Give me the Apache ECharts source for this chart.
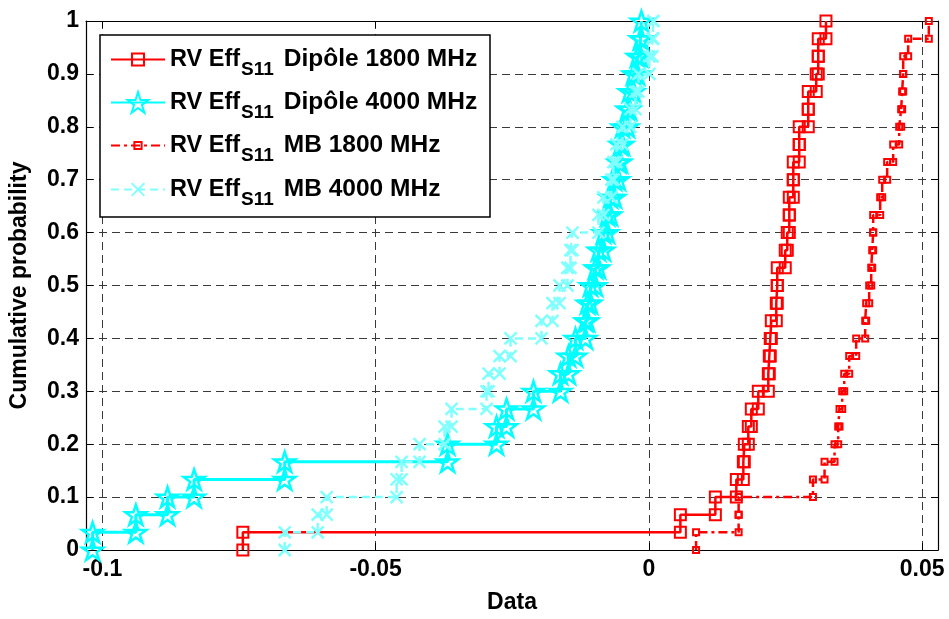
<!DOCTYPE html>
<html>
<head>
<meta charset="utf-8">
<script src="https://cdn.jsdelivr.net/npm/echarts@6/dist/echarts.min.js"></script>
<style>
  html, body { margin: 0; padding: 0; background: #ffffff; }
  #chart { width: 949px; height: 619px; }
</style>
</head>
<body>
<div id="chart"></div>
<script>
// Sorted samples of the radiation-efficiency deviation (one empirical CDF per case)
const seriesNames = ['Dipôle 1800 MHz', 'Dipôle 4000 MHz', 'MB 1800 MHz', 'MB 4000 MHz'];

const dipole1800 = [
  -0.0743, 0.00576, 0.01216, 0.0160, 0.01728, 0.01746, 0.01819, 0.01874, 0.02002, 0.02185,
  0.02203, 0.02221, 0.0224, 0.02331, 0.02349, 0.02349, 0.02495, 0.02532, 0.02569, 0.02569,
  0.02642, 0.02642, 0.02751, 0.02751, 0.02916, 0.02916, 0.03062, 0.03099, 0.03099, 0.0324
];

const dipole4000 = [
  -0.10179, -0.09388, -0.08808, -0.08322, -0.06664, -0.03684, -0.02788, -0.02605, -0.02112, -0.01618,
  -0.01472, -0.01344, -0.01161, -0.01124, -0.01069, -0.00978, -0.00923, -0.00832, -0.00759, -0.00704,
  -0.00631, -0.00558, -0.00521, -0.00484, -0.00393, -0.00356, -0.00283, -0.0021, -0.00155, -0.00137
];

const mb1800 = [
  0.00863, 0.01642, 0.01642, 0.03002, 0.03214, 0.03397, 0.03464, 0.03488, 0.03537, 0.03574,
  0.03665, 0.03793, 0.03958, 0.03976, 0.04031, 0.04068, 0.04086, 0.04104, 0.04104, 0.04232,
  0.04269, 0.0436, 0.0447, 0.0458, 0.04616, 0.04634, 0.04653, 0.04653, 0.04744, 0.05122
];

const mb4000 = [
  -0.06664, -0.0606, -0.05896, -0.04616, -0.04525, -0.04196, -0.03739, -0.03611, -0.02971, -0.02934,
  -0.02733, -0.02532, -0.01965, -0.01764, -0.01636, -0.0149, -0.01435, -0.01399, -0.00923, -0.00832,
  -0.00686, -0.00649, -0.00594, -0.00484, -0.00338, -0.00247, -0.00192, 0.00009, 0.00064, 0.00082
];

const xTickValues = [-0.1, -0.05, 0, 0.05];
const xRange = [-0.103, 0.0529];
const yRange = [0, 1];

// Staircase of an empirical CDF: each sample gives a vertical jump of 1/n
function cdfStairs(samples) {
  const s = samples.slice().sort((a, b) => a - b);
  const n = s.length;
  const pts = [];
  s.forEach((v, i) => {
    pts.push([v, i / n]);
    pts.push([v, (i + 1) / n]);
  });
  return pts;
}

const FONT = "'Liberation Sans', Arial, Helvetica, sans-serif";
const STAR = 'path://M50,0 L61.2,34.5 L97.6,34.5 L68.2,55.9 L79.4,90.5 L50,69.1 L20.6,90.5 L31.8,55.9 L2.4,34.5 L38.8,34.5 Z';
const CROSS = 'path://M0,0 L10,10 M10,0 L0,10';
const CLEAR = 'rgba(0,0,0,0)';

const styles = [
  { data: dipole1800, color: '#ff0000', type: 'solid', width: 2.5, symbol: 'rect', size: 11, border: 2, legendH: 15 },
  { data: dipole4000, color: '#00ffff', type: 'solid', width: 3, symbol: STAR, size: 21, border: 2.5, legendH: 26 },
  { data: mb1800, color: '#ff0000', type: [9, 4, 3, 4], width: 2.5, symbol: 'rect', size: 6, border: 2, legendH: 9 },
  { data: mb4000, color: '#80ffff', type: [8, 5], width: 2.5, symbol: CROSS, size: 12, border: 2.5, legendH: 16 }
];

const series = styles.map((st, i) => ({
  name: seriesNames[i],
  type: 'line',
  data: cdfStairs(st.data),
  symbol: st.symbol,
  symbolSize: st.size,
  showSymbol: true,
  symbolKeepAspect: true,
  lineStyle: { color: st.color, width: st.width, type: st.type },
  itemStyle: { color: CLEAR, borderColor: st.color, borderWidth: st.border },
  emphasis: { disabled: true },
  z: 2 + i
}));

const legendRowTops = [40, 83, 126, 170];
const legends = styles.map((st, i) => ({
  data: [seriesNames[i]],
  left: 110,
  top: legendRowTops[i],
  padding: 0,
  itemWidth: 54,
  itemHeight: st.legendH,
  selectedMode: false,
  z: 10,
  formatter: name => '{a|RV Eff}{s|S11}{b|' + name + '}',
  textStyle: {
    color: '#000',
    rich: {
      a: { fontFamily: FONT, fontWeight: 'bold', fontSize: 23.5, lineHeight: 24, color: '#000' },
      s: { fontFamily: FONT, fontWeight: 'bold', fontSize: 19, lineHeight: 14, padding: [20, 10, 0, 1], color: '#000' },
      b: { fontFamily: FONT, fontWeight: 'bold', fontSize: 24.5, lineHeight: 24, color: '#000' }
    }
  }
}));

const labelStyle = { fontFamily: FONT, fontWeight: 'bold', fontSize: 23, color: '#000' };
const gridLine = { show: true, lineStyle: { color: '#3a3a3a', width: 1, type: [8, 5] } };

const option = {
  animation: false,
  backgroundColor: '#ffffff',
  grid: { left: 85, right: 11, top: 21, bottom: 64, containLabel: false },
  legend: legends,
  graphic: [{
    type: 'rect',
    shape: { x: 100, y: 35, width: 390, height: 182 },
    style: { fill: '#ffffff', stroke: '#000', lineWidth: 1.5 },
    z: 8
  }],
  xAxis: [{
    type: 'value',
    min: xRange[0],
    max: xRange[1],
    position: 'bottom',
    name: 'Data',
    nameLocation: 'middle',
    nameGap: 41,
    nameTextStyle: labelStyle,
    axisLine: { show: true, onZero: false, lineStyle: { color: '#000', width: 1.2 } },
    axisTick: { show: true, inside: true, length: 7, customValues: xTickValues, lineStyle: { color: '#000' } },
    axisLabel: { customValues: xTickValues, margin: 8, formatter: v => String(parseFloat(v.toFixed(3))), ...labelStyle },
    splitLine: gridLine
  }, {
    type: 'value',
    min: xRange[0],
    max: xRange[1],
    position: 'top',
    axisLine: { show: true, onZero: false, lineStyle: { color: '#000', width: 1.2 } },
    axisTick: { show: true, inside: true, length: 7, customValues: xTickValues, lineStyle: { color: '#000' } },
    axisLabel: { show: false },
    splitLine: { show: false }
  }],
  yAxis: [{
    type: 'value',
    min: yRange[0],
    max: yRange[1],
    interval: 0.1,
    position: 'left',
    name: 'Cumulative probability',
    nameLocation: 'middle',
    nameRotate: 90,
    nameGap: 55,
    nameTextStyle: labelStyle,
    axisLine: { show: true, onZero: false, lineStyle: { color: '#000', width: 1.2 } },
    axisTick: { show: true, inside: true, length: 7, lineStyle: { color: '#000' } },
    axisLabel: { margin: 7, formatter: v => String(parseFloat(v.toFixed(2))), ...labelStyle },
    splitLine: gridLine
  }, {
    type: 'value',
    min: yRange[0],
    max: yRange[1],
    interval: 0.1,
    position: 'right',
    axisLine: { show: true, onZero: false, lineStyle: { color: '#000', width: 1.2 } },
    axisTick: { show: true, inside: true, length: 7, lineStyle: { color: '#000' } },
    axisLabel: { show: false },
    splitLine: { show: false }
  }],
  series: series
};

const chart = echarts.init(document.getElementById('chart'), null, { renderer: 'canvas' });
chart.setOption(option);
</script>
</body>
</html>
